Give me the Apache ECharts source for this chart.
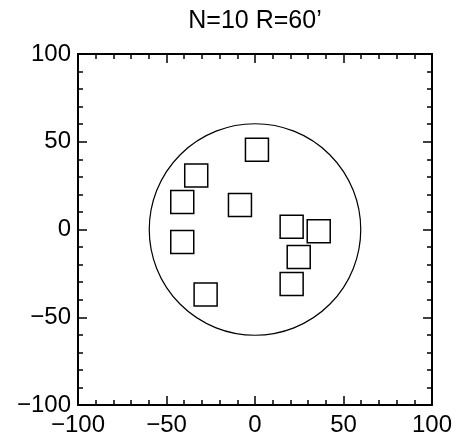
<!DOCTYPE html>
<html>
<head>
<meta charset="utf-8">
<script src="https://cdn.jsdelivr.net/npm/echarts@6/dist/echarts.min.js"></script>
<style>
  html, body { margin: 0; padding: 0; background: #fff; }
  #chart { width: 463px; height: 446px; }
</style>
</head>
<body>
<div id="chart"></div>
<script>
// 方块中心位置 (x, y)
var pointX = [1.1, -33.2, -41.1, -8.5, 20.7, 36.0, -41.1, 24.7, 20.7, -27.9];
var pointY = [45.4, 30.8, 15.6, 14.0, 1.5, -1.0, -7.1, -15.6, -31.0, -37.0];
// 圆: 圆心和半径
var circleCenter = [0, 0];
var circleRadius = 60;
var titleText = 'N=10 R=60\u2019';

var chart = echarts.init(document.getElementById('chart'));

var points = pointX.map(function (x, i) { return [x, pointY[i]]; });

function minusFmt(v) {
  return v < 0 ? '\u2212' + Math.abs(v) : String(v);
}

var font = 'Liberation Sans, Arial, sans-serif';

function makeAxis(pos, showLabel, margin) {
  return {
    type: 'value',
    position: pos,
    min: -100,
    max: 100,
    interval: 50,
    axisLine: { show: true, onZero: false, lineStyle: { color: '#000', width: 2 } },
    axisTick: { show: true, inside: true, length: 9, lineStyle: { color: '#000', width: 1.5 } },
    minorTick: { show: true, splitNumber: 5, length: 5, lineStyle: { color: '#000', width: 1.5 } },
    splitLine: { show: false },
    axisLabel: {
      show: showLabel,
      margin: margin,
      color: '#000',
      fontSize: 24,
      fontFamily: font,
      formatter: minusFmt
    }
  };
}

var option = {
  animation: false,
  backgroundColor: '#fff',
  title: {
    text: titleText,
    left: 255,
    textAlign: 'center',
    top: 9,
    padding: 0,
    textStyle: { color: '#000', fontSize: 25, fontWeight: 'normal', fontFamily: font }
  },
  grid: { left: 78, right: 31, top: 54, bottom: 41 },
  xAxis: [makeAxis('bottom', true, 8), makeAxis('top', false, 8)],
  yAxis: [makeAxis('left', true, 7), makeAxis('right', false, 7)],
  series: [
    {
      type: 'custom',
      xAxisIndex: 0,
      yAxisIndex: 0,
      data: [[circleCenter[0], circleCenter[1], circleRadius]],
      renderItem: function (params, api) {
        var c = api.coord([api.value(0), api.value(1)]);
        var s = api.size([api.value(2), api.value(2)]);
        return {
          type: 'circle',
          shape: { cx: c[0], cy: c[1], r: (s[0] + s[1]) / 2 },
          style: { fill: 'none', stroke: '#000', lineWidth: 1.2 }
        };
      },
      z: 1
    },
    {
      type: 'scatter',
      xAxisIndex: 0,
      yAxisIndex: 0,
      data: points,
      symbol: 'rect',
      symbolSize: 23,
      itemStyle: { color: '#fff', borderColor: '#000', borderWidth: 1.5, opacity: 1 },
      z: 2
    }
  ]
};

chart.setOption(option);
</script>
</body>
</html>
